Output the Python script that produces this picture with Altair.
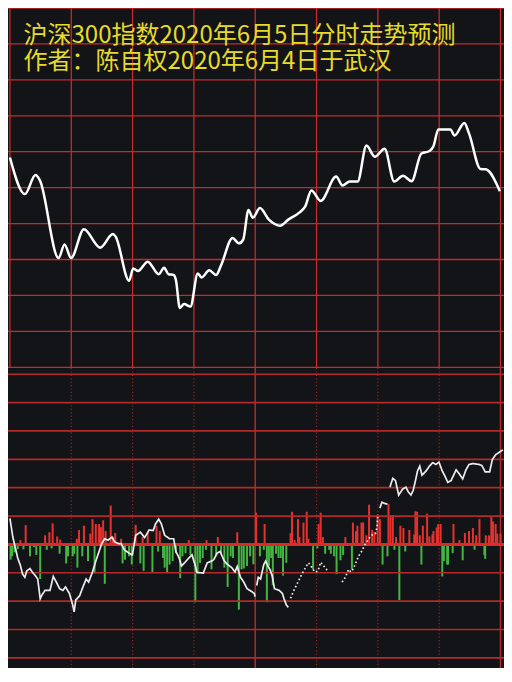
import altair as alt
import pandas as pd

# ---------------- text ----------------
title_line1 = "沪深300指数2020年6月5日分时走势预测"
title_line2 = "作者：陈自权2020年6月4日于武汉"

# ---------------- top panel: predicted intraday index ----------------
top_minutes = [0, 7.3, 12.5, 14.6, 23.8, 26.7, 29.9, 36.2, 44.1, 50.4, 51.7, 58.3, 60.3, 62.7,
               67.4, 72.8, 75.4, 77.6, 80.1, 81.2, 83.1, 85.2, 88.3, 91.9, 93.8, 97.5, 100.9,
               103.3, 108.9, 112.0, 114.1, 116.7, 118.8, 122.3, 126.7, 132.2, 136.2, 141.7,
               144.4, 147.5, 152.0, 159.6, 162.7, 166.2, 170.1, 174.4, 178.5, 183.3, 188.0,
               192.3, 196.5, 201.3, 205.3, 207.2, 209.6, 215.5, 217.5, 222.3, 224.6, 230.2,
               232.8, 239.7]
top_index = [4008.4, 3998.2, 4003.5, 4002.1, 3980.4, 3984.2, 3980.4, 3988.4, 3983.3, 3987.1,
             3986.4, 3974.1, 3977.5, 3976.8, 3979.4, 3975.9, 3977.7, 3975.9, 3975.7, 3974.3,
             3966.5, 3967.6, 3966.9, 3976.1, 3975.0, 3977.0, 3975.7, 3978.4, 3986.0, 3984.5,
             3985.5, 3993.8, 3991.6, 3994.3, 3991.1, 3989.4, 3991.1, 3993.1, 3994.7, 3999.2,
             3996.3, 4003.1, 4000.6, 4001.7, 4001.7, 4011.7, 4008.6, 4010.8, 4001.7, 4003.3,
             4001.8, 4009.5, 4010.2, 4011.5, 4016.2, 4016.2, 4014.5, 4018.0, 4015.1, 4005.2,
             4005.1, 3999.0]

top_grid_levels = [3950, 3960, 3970, 3980, 3990, 4000, 4010, 4020, 4030, 4040, 4050]
grid_minutes = [0, 30, 60, 90, 120, 150, 180, 210, 240]
dotted_minutes = [30, 60, 90, 150, 180, 210]
solid_minutes = [120, 240]

# ---------------- bottom panel: bars ----------------
up_minutes = [5.1, 7.7, 17.2, 19.3, 20.9, 23.1, 24.6, 32.7, 33.8, 36.2, 39.3, 40.4, 42.0, 43.6,
              44.5, 45.6, 46.8, 49.3, 50.4, 51.5, 54.4, 61.5, 64.9, 67.4, 71.7, 73.3, 87.5,
              96.2, 101.7, 111.2, 120.4, 124.6, 137.3, 138.0, 139.3, 140.9, 141.6, 143.6,
              145.2, 146.0, 151.0, 152.0, 153.1, 164.1, 167.8, 169.3, 170.0, 172.0, 172.8,
              174.4, 175.7, 177.2, 178.3, 179.9, 181.0, 185.2, 186.2, 187.3, 188.9, 191.0,
              192.5, 195.4, 197.8, 198.4, 199.2, 200.5, 202.0, 204.1, 205.2, 206.7, 207.2,
              208.8, 209.5, 210.7, 217.0, 219.9, 222.6, 224.6, 226.5, 228.1, 229.7, 232.8,
              234.4, 235.5, 236.3, 237.6, 238.4, 240.0]
up_values = [1.5, 6.8, 3.2, 4.3, 7.4, 2.8, 1.7, 2.0, 5.1, 6.6, 3.8, 8.9, 7.2, 7.2,
             6.1, 8.5, 4.7, 13.7, 2.7, 4.0, 2.0, 6.9, 2.6, 4.3, 6.6, 4.7, 1.5,
             1.5, 2.6, 4.3, 11.2, 7.2, 4.0, 11.5, 1.5, 8.9, 2.6, 7.7,
             11.5, 2.0, 7.2, 11.2, 2.6, 2.6, 7.7, 4.7, 6.6, 7.7, 7.7,
             3.2, 14.0, 5.1, 4.3, 10.6, 8.9, 14.2, 10.3, 10.3, 2.6, 6.6,
             5.8, 5.1, 3.5, 11.7, 11.5, 3.2, 6.6, 10.9, 2.8, 3.5, 4.7,
             6.0, 7.2, 7.2, 7.2, 1.5, 4.0, 4.7, 5.8, 3.2, 8.9, 3.2,
             3.2, 10.0, 8.1, 7.2, 3.8, 3.8]
down_minutes = [0.3, 1.0, 2.2, 3.8, 6.6, 9.8, 11.7, 12.9, 14.8, 18.0, 20.4, 24.3, 27.5, 28.4,
                30.7, 31.4, 33.0, 35.4, 38.2, 41.4, 46.4, 55.1, 56.3, 58.3, 59.6, 63.8, 65.4,
                69.7, 72.5, 74.9, 75.7, 76.9, 78.1, 79.6, 81.2, 83.3, 84.4, 85.9, 88.3, 90.7,
                91.8, 93.0, 94.3, 95.9, 98.6, 100.9, 103.3, 104.9, 106.5, 108.0, 109.1, 112.0,
                113.3, 114.4, 116.0, 117.5, 119.1, 122.3, 124.2, 125.7, 126.7, 127.8, 128.6,
                130.2, 131.4, 132.5, 133.6, 135.2, 148.3, 150.4, 154.2, 156.2, 157.0, 158.6,
                159.8, 161.7, 163.0, 167.3, 182.3, 184.7, 188.1, 190.5, 193.4, 201.3, 211.5,
                212.3, 213.9, 214.3, 216.6, 221.5, 227.3, 232.1, 232.5]
down_values = [-5.4, -4.2, -2.8, -1.7, -1.7, -4.2, -1.0, -3.7, -12.2, -1.9, -1.4, -3.3, -6.7,
               -4.2, -4.2, -3.3, -8.2, -4.2, -5.9, -10.2, -13.9, -6.7, -5.4, -4.2, -7.1, -6.7,
               -9.3, -9.7, -2.5, -4.8, -8.2, -9.9, -7.1, -5.9, -3.1, -11.9, -4.2, -3.1, -3.7,
               -20.4, -9.9, -6.5, -4.8, -1.9, -8.8, -4.2, -3.3, -8.2, -15.0, -4.2, -4.8, -23.0,
               -8.8, -8.5, -7.6, -4.2, -7.0, -4.2, -1.9, -20.4, -7.6, -4.8, -14.4, -3.3,
               -4.8, -4.8, -11.0, -6.5, -8.8, -1.4, -3.3, -1.9, -3.3, -4.2, -10.5,
               -5.6, -3.7, -8.8, -7.1, -4.2, -1.9, -19.6, -2.5, -7.1, -11.3, -5.9,
               -7.1, -7.1, -3.1, -5.6, -1.9, -3.7, -5.1]

# ---------------- bottom panel: white line (segments) ----------------
seg_a_t = [0, 1.4, 3.8, 5.1, 6.2, 7.3, 8.2, 9.8, 10.9, 12.5, 13.6, 14.8, 15.6, 17.2, 19.6, 21.2,
           22.7, 24.3, 25.9, 27.2, 29.1, 30.7, 31.4, 32.2, 34.1, 35.7, 37.3, 38.5, 40.4, 42.0,
           43.6, 44.9, 46.4, 48.0, 49.9, 51.2, 53.1, 54.4, 55.9, 58.3, 59.9, 61.5, 63.8, 65.9,
           68.1, 70.1, 71.2, 72.8, 74.1, 75.7, 78.1, 80.1, 81.2, 82.8, 83.9, 85.4, 87.5, 89.1,
           90.7, 91.5, 94.6, 96.5, 98.6, 99.7, 101.3, 102.8, 104.9, 106.5, 108.5, 110.1, 111.2,
           112.8, 114.4, 116.0, 118.0, 119.6, 119.9]
seg_a_v = [9.2, 2.6, -4.8, -7.4, -10.5, -11.6, -9.4, -8.5, -9.7, -11.1, -12.2, -19.2, -17.9, -16.2,
           -16.2, -11.3, -13.3, -15.6, -16.2, -15.0, -17.3, -21.3, -23.8, -19.6, -18.1, -15.0,
           -12.2, -13.3, -9.7, -5.9, -2.5, 0.3, 2.0, 1.5, 2.6, 0.9, 0.3, 0.3, -1.9, -3.1, -3.7,
           3.2, 4.3, 2.4, 5.1, 4.9, 7.2, 8.9, 7.2, 3.2, 2.0, 2.0, -2.5, -4.8, -7.6, -6.5, -4.8,
           -3.7, -7.6, -9.9, -10.1, -6.5, -5.9, -5.4, -3.1, -2.5, -5.9, -7.1, -8.2, -9.7, -7.8,
           -11.6, -13.3, -15.6, -16.5, -17.3, -18.4]
seg_b_t = [120.7, 121.5, 122.6, 124.2, 125.1, 126.2, 127.3, 128.3, 129.4, 131.7, 133.3, 134.1,
           135.2, 136.2]
seg_b_v = [-14.5, -11.6, -12.2, -7.1, -5.9, -7.6, -9.0, -11.1, -15.6, -16.2, -17.3, -19.2,
           -21.3, -22.2]
seg_c_t = [137.3, 138.9, 140.9, 142.8, 144.1, 146.0, 146.8, 149.1, 150.7, 152.0, 153.5, 155.1, 156.2]
seg_c_v = [-19.0, -16.2, -13.3, -10.5, -8.8, -6.5, -7.1, -9.7, -9.4, -6.3, -7.6, -9.0, -9.4]
seg_d_t = [162.5, 164.1, 165.7, 166.8, 167.8, 168.9, 170.5, 172.0, 173.6, 175.2, 176.8, 178.8,
           179.6, 179.9]
seg_d_v = [-13.3, -11.6, -8.8, -9.7, -8.8, -7.1, -4.2, -2.5, -0.2, 1.5, 3.2, 3.8, 6.0, 9.7]
seg_e_t = [181.0, 182.0, 183.1, 184.7]
seg_e_v = [12.8, 14.9, 14.5, 14.2]
seg_f_t = [185.9, 187.3, 188.6, 190.2, 192.1, 193.7, 194.9, 196.2, 197.3, 198.4, 199.4, 200.5,
           201.6, 203.6, 205.2, 206.8, 208.4, 209.9, 211.5, 212.6, 214.2, 215.8, 218.3, 219.9,
           221.5, 223.1, 224.6, 226.5, 229.4, 230.9, 232.5, 234.7, 236.0, 237.6, 240.0, 241.2]
seg_f_v = [20.2, 23.3, 22.5, 17.4, 19.5, 20.2, 18.5, 17.4, 19.1, 22.5, 25.9, 27.6,
           24.4, 25.9, 27.6, 28.8, 28.2, 29.0, 25.9, 24.4, 21.9, 22.5, 26.3, 24.8,
           23.1, 26.3, 28.2, 28.5, 28.2, 27.8, 25.6, 25.6, 29.9, 31.6, 32.8, 33.3]

bottom_grid_levels = [-40, -30, -20, -10, 10, 20, 30, 40, 50, 60]

# ---------------- style ----------------
BG = "#131417"
GRID_TOP = "#c42b2b"
GRID_BOT = "#b22a2a"
ZERO = "#dc2a28"
RED = "#e5322f"
GREEN = "#42b542"
YELLOW = "#e6da2a"
FONT = "Noto Sans CJK SC"

X_SCALE = alt.Scale(domain=[-0.95, 241.71], nice=False, zero=False)
Y_TOP = alt.Scale(domain=[3949.8, 4050], nice=False, zero=False)
Y_BOT = alt.Scale(domain=[-43.58, 62.2], nice=False, zero=False)


def pairs(a, b, **extra):
    n = min(len(a), len(b))
    d = {"t": a[:n], "v": b[:n]}
    for k, val in extra.items():
        d[k] = [val] * n
    return pd.DataFrame(d)


# ----- top panel -----
top_df = pairs(top_minutes, top_index)
hgrid_top = alt.Chart(pd.DataFrame({"v": top_grid_levels})).mark_rule(
    color=GRID_TOP, strokeWidth=1.3, clip=True
).encode(y=alt.Y("v:Q", scale=Y_TOP, axis=None))
vgrid_top = alt.Chart(pd.DataFrame({"t": grid_minutes})).mark_rule(
    color=GRID_TOP, strokeWidth=1.3, clip=True
).encode(x=alt.X("t:Q", scale=X_SCALE, axis=None))
line_top = alt.Chart(top_df).mark_line(
    color="#ffffff", strokeWidth=2.5, interpolate="monotone", clip=True
).encode(
    x=alt.X("t:Q", scale=X_SCALE, axis=None),
    y=alt.Y("v:Q", scale=Y_TOP, axis=None),
)
titles = alt.Chart(pd.DataFrame({"s": [title_line1 + "\n" + title_line2]})).mark_text(
    align="left", baseline="alphabetic", fontSize=24, font=FONT, color=YELLOW,
    lineBreak="\n", lineHeight=25.4,
).encode(text="s:N", x=alt.value(15.5), y=alt.value(35.3))

top = alt.layer(hgrid_top, vgrid_top, line_top, titles).properties(width=496, height=360)

# ----- bottom panel -----
bars_df = pd.concat([pairs(up_minutes, up_values, dir="up"),
                     pairs(down_minutes, down_values, dir="down")], ignore_index=True)
bars = alt.Chart(bars_df).mark_rule(strokeWidth=2, clip=True).encode(
    x=alt.X("t:Q", scale=X_SCALE, axis=None),
    y=alt.Y("v:Q", scale=Y_BOT, axis=None),
    y2=alt.datum(0),
    color=alt.Color("dir:N", scale=alt.Scale(domain=["up", "down"], range=[RED, GREEN]), legend=None),
)
hgrid_bot = alt.Chart(pd.DataFrame({"v": bottom_grid_levels})).mark_rule(
    color=GRID_BOT, strokeWidth=1.7, clip=True
).encode(y=alt.Y("v:Q", scale=Y_BOT, axis=None))
zero_line = alt.Chart(pd.DataFrame({"v": [0]})).mark_rule(
    color=ZERO, strokeWidth=3, clip=True
).encode(y=alt.Y("v:Q", scale=Y_BOT, axis=None))
vdot_bot = alt.Chart(pd.DataFrame({"t": dotted_minutes})).mark_rule(
    color="#962424", strokeWidth=1.2, strokeDash=[1.2, 2.2], clip=True
).encode(x=alt.X("t:Q", scale=X_SCALE, axis=None))
vsolid_bot = alt.Chart(pd.DataFrame({"t": solid_minutes})).mark_rule(
    color=GRID_BOT, strokeWidth=1.5, clip=True
).encode(x=alt.X("t:Q", scale=X_SCALE, axis=None))

low_df = pd.concat([
    pairs(seg_a_t, seg_a_v, seg="a", style="solid"),
    pairs(seg_b_t, seg_b_v, seg="b", style="solid"),
    pairs(seg_c_t, seg_c_v, seg="c", style="dotted"),
    pairs(seg_d_t, seg_d_v, seg="d", style="dotted"),
    pairs(seg_e_t, seg_e_v, seg="e", style="solid"),
    pairs(seg_f_t, seg_f_v, seg="f", style="solid"),
], ignore_index=True)
line_bot = alt.Chart(low_df).mark_line(color="#ececec", strokeWidth=1.7, clip=True).encode(
    x=alt.X("t:Q", scale=X_SCALE, axis=None),
    y=alt.Y("v:Q", scale=Y_BOT, axis=None),
    detail="seg:N",
    order="t:Q",
    strokeDash=alt.StrokeDash(
        "style:N",
        scale=alt.Scale(domain=["solid", "dotted"], range=[[1, 0], [1.6, 2.4]]),
        legend=None,
    ),
)

bottom = alt.layer(vdot_bot, vsolid_bot, bars, hgrid_bot, zero_line, line_bot).properties(
    width=496, height=300
)

chart = (
    alt.vconcat(top, bottom, spacing=0)
    .properties(padding=0, background=BG)
    .configure_view(strokeWidth=0, fill=BG)
)

chart.save("out.html", embed_options={"renderer": "svg", "actions": False})
